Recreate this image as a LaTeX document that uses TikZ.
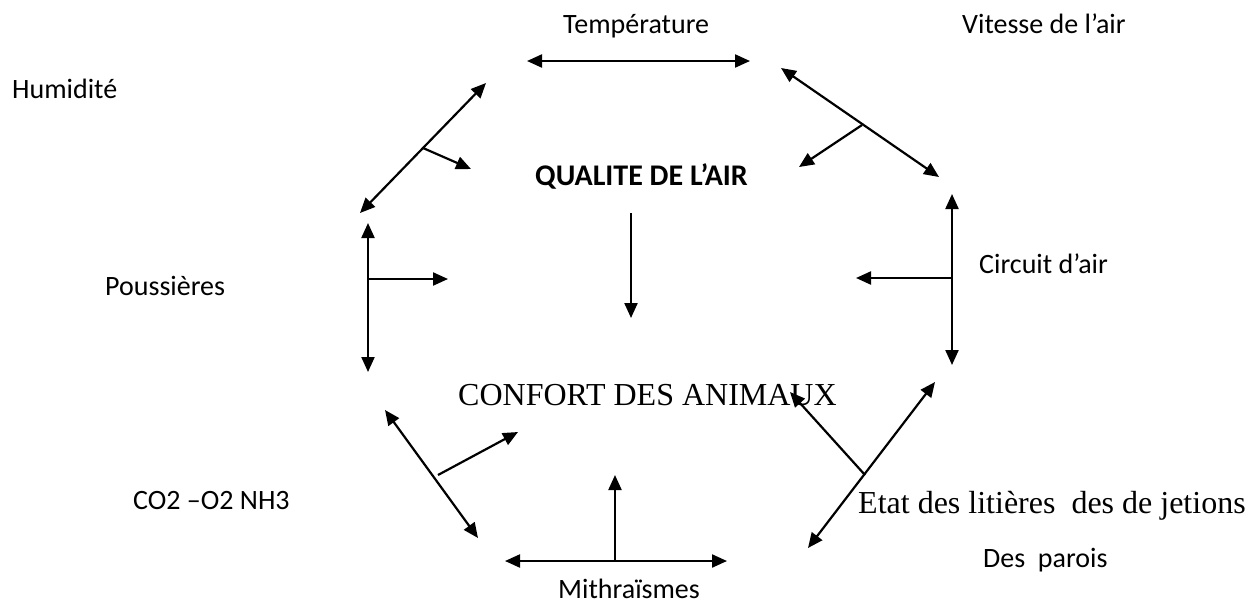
\documentclass[tikz,border=0pt]{standalone}
\usepackage{fontspec}
\setmainfont{Carlito}
\newfontfamily\tnr{Liberation Serif}
\usetikzlibrary{arrows.meta}
\tikzset{
  lbl/.style={inner sep=0pt, anchor=base west, font=\fontsize{28}{32}\selectfont},
  serif/.style={inner sep=0pt, anchor=base west, font=\tnr\fontsize{32}{36}\selectfont},
  arr/.style={line width=2.2pt, -{Triangle[length=15pt,width=13pt]}},
  darr/.style={line width=2.2pt, {Triangle[length=15pt,width=13pt]}-{Triangle[length=15pt,width=13pt]}}
}
\begin{document}
\begin{tikzpicture}[x=1pt,y=-1pt]
\useasboundingbox (0,0) rectangle (1260,608);
% texts
\node[lbl] (temp) at (563,33) {Température};
\node[lbl] (vit) at (962,33) {Vitesse de l’air};
\node[lbl] (hum) at (12,98) {Humidité};
\node[lbl, font=\bfseries\fontsize{30}{34}\selectfont] (qual) at (535,185) {QUALITE DE L’AIR};
\node[lbl] (pous) at (105,295) {Poussières};
\node[lbl] (circ) at (979,273) {Circuit d’air};
\node[serif] (conf) at (458,405) {CONFORT DES ANIMAUX};
\node[lbl] (co2) at (133,509) {CO2 –O2 NH3};
\node[serif] (etat) at (858,513) {Etat des litières\ \ des de jetions};
\node[lbl] (par) at (983,567) {Des\ \ parois};
\node[lbl] (mith) at (558,598) {Mithraïsmes};
% coordinates
\coordinate (t1) at (527,61); \coordinate (t2) at (750,61);
\coordinate (h1) at (360,213); \coordinate (h2) at (486,83);
\coordinate (hm) at (423,148); \coordinate (hq) at (471,169);
\coordinate (v1) at (781,68); \coordinate (v2) at (939,177);
\coordinate (vm) at (862,125); \coordinate (vq) at (799,167);
\coordinate (c1) at (952,194); \coordinate (c2) at (952,365);
\coordinate (cm) at (952,278); \coordinate (cq) at (856,278);
\coordinate (p1) at (368,223); \coordinate (p2) at (368,372);
\coordinate (pm) at (368,279); \coordinate (pq) at (448,279);
\coordinate (o1) at (385,410); \coordinate (o2) at (478,538);
\coordinate (om) at (438,475); \coordinate (oq) at (518,432);
\coordinate (m1) at (505,561); \coordinate (m2) at (727,561);
\coordinate (mm) at (615,561); \coordinate (mq) at (615,475);
\coordinate (e1) at (808,548); \coordinate (e2) at (935,382);
\coordinate (em) at (865,475); \coordinate (eq) at (790,392);
\coordinate (qa) at (631,213); \coordinate (qb) at (631,318);
% arrows
\draw[darr] (t1) -- (t2);
\draw[darr] (h1) -- (h2);
\draw[arr] (hm) -- (hq);
\draw[darr] (v1) -- (v2);
\draw[arr] (vm) -- (vq);
\draw[darr] (c1) -- (c2);
\draw[arr] (cm) -- (cq);
\draw[darr] (p1) -- (p2);
\draw[arr] (pm) -- (pq);
\draw[darr] (o1) -- (o2);
\draw[arr] (om) -- (oq);
\draw[darr] (m1) -- (m2);
\draw[arr] (mm) -- (mq);
\draw[darr] (e1) -- (e2);
\draw[arr] (em) -- (eq);
\draw[arr] (qa) -- (qb);
\end{tikzpicture}
\end{document}
